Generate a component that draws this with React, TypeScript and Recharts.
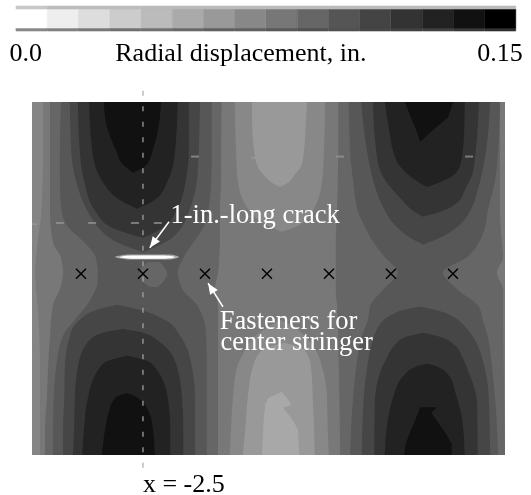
import React from "react";
import {
  Area,
  Bar,
  BarChart,
  Cell,
  ComposedChart,
  ReferenceDot,
  ReferenceLine,
  Scatter,
  XAxis,
  YAxis,
} from "recharts";

// Colour scale (displacement steps, light to dark)
const scaleSteps = ["s0","s1","s2","s3","s4","s5","s6","s7","s8","s9","s10","s11","s12","s13","s14","s15"];
const scaleShades = ["#ffffff","#eeeeee","#dddddd","#cccccc","#bbbbbb","#aaaaaa","#999999","#888888","#777777","#666666","#555555","#444444","#333333","#222222","#111111","#000000"];
const scaleTopShades = ["#c8c8c8","#bcbcbc","#bcbcbc","#bcbcbc","#bbbbbb","#bbbbbb","#bbbbbb","#bbbbbb","#bbbbbb","#bbbbbb","#bbbbbb","#bbbbbb","#bbbbbb","#bbbbbb","#bbbbbb","#bbbbbb"];
const scaleBottomShades = ["#888888","#808080","#787878","#707070","#707070","#686868","#606060","#606060","#585858","#505050","#505050","#484848","#404040","#404040","#383838","#303030"];

// Contour regions: [y in., left x in., right x in.]
const baseField = [[2.77,-4.29,3.34],[-2.92,-4.29,3.34]];
const leftEdge88 = [[2.77,-4.29,-4.11],[2,-4.29,-4.11],[1,-4.29,-4.14],[0.5,-4.29,-4.2],[0,-4.29,-4.24],[-0.5,-4.29,-4.2],[-1.5,-4.29,-4.16],[-2.92,-4.29,-4.16]];
const band66Left = [[2.77,-4,-1.23],[2,-4,-1.24],[1.5,-4,-1.24],[1,-4,-1.26],[0.5,-3.95,-1.26],[0.26,-3.82,-1.27],[0,-3.79,-1.29],[-0.24,-3.84,-1.34],[-0.5,-3.95,-1.29],[-1,-4,-1.29],[-1.5,-4.03,-1.29],[-2,-4.05,-1.29],[-2.5,-4.08,-1.29],[-2.92,-4.08,-1.29]];
const band55Left = [[2.77,-3.82,-1.39],[2,-3.84,-1.39],[1.5,-3.84,-1.4],[1,-3.81,-1.45],[0.76,-3.71,-1.52],[0.5,-3.44,-1.69],[0.26,-3.26,-1.85],[0,-3.23,-1.94],[-0.15,-3.23,-1.9],[-0.24,-3.26,-1.87],[-0.5,-3.4,-1.63],[-0.74,-3.6,-1.52],[-1,-3.79,-1.48],[-1.5,-3.9,-1.47],[-2,-3.94,-1.47],[-2.5,-3.95,-1.47],[-2.92,-3.95,-1.47]];
const bump66 = [[0.19,-2.42,-2.23],[0.1,-2.52,-2.15],[0,-2.55,-2.11],[-0.1,-2.52,-2.15],[-0.21,-2.39,-2.26]];
const top44Left = [[2.77,-3.68,-1.58],[2,-3.66,-1.6],[1.5,-3.58,-1.63],[1,-3.39,-1.76],[0.76,-3.23,-1.87],[0.5,-2.9,-2.15],[0.35,-2.5,-2.5]];
const top33Left = [[2.77,-3.55,-1.76],[2,-3.52,-1.76],[1.5,-3.45,-1.81],[1,-3.26,-1.97],[0.76,-3.03,-2.15],[0.58,-2.5,-2.5]];
const top22Left = [[2.77,-3.37,-1.94],[2,-3.32,-1.98],[1.5,-3.16,-2.1],[1.19,-2.87,-2.31],[1.05,-2.6,-2.6]];
const top11Left = [[2.77,-3.13,-2.21],[2.5,-3.11,-2.23],[2,-2.94,-2.34],[1.76,-2.82,-2.44],[1.63,-2.66,-2.66]];
const bot44Left = [[-0.5,-2.92,-2.92],[-0.58,-3.24,-2.55],[-0.74,-3.52,-2.15],[-1,-3.68,-1.9],[-1.5,-3.76,-1.71],[-2,-3.77,-1.66],[-2.5,-3.79,-1.66],[-2.92,-3.79,-1.66]];
const bot33Left = [[-0.89,-2.82,-2.82],[-0.95,-3.15,-2.5],[-1.1,-3.39,-2.23],[-1.5,-3.55,-1.95],[-2,-3.6,-1.87],[-2.5,-3.61,-1.85],[-2.92,-3.63,-1.85]];
const bot22Left = [[-1.32,-2.76,-2.76],[-1.4,-3.06,-2.44],[-1.5,-3.19,-2.31],[-2,-3.39,-2.1],[-2.5,-3.45,-2.06],[-2.92,-3.48,-2.06]];
const bot11Left = [[-1.92,-2.76,-2.76],[-2,-2.95,-2.58],[-2.26,-3.06,-2.39],[-2.5,-3.11,-2.34],[-2.92,-3.16,-2.31]];
const center88Top = [[2.77,-1.02,0.44],[2,-1,0.42],[1.5,-0.97,0.39],[1,-0.77,0.23],[0.76,-0.45,-0.03],[0.68,-0.26,-0.26]];
const center99Top = [[2.77,-0.74,0.15],[2.5,-0.74,0.13],[2,-0.71,0.1],[1.76,-0.66,0.06],[1.6,-0.56,-0.05],[1.47,-0.42,-0.16],[1.4,-0.29,-0.29]];
const center88Bot = [[-0.74,-0.29,-0.29],[-0.82,-0.42,-0.13],[-1,-0.69,0.11],[-1.23,-0.85,0.29],[-1.5,-0.98,0.39],[-2,-1.05,0.47],[-2.5,-1.08,0.48],[-2.92,-1.1,0.5]];
const center99Bot = [[-1.11,-0.21,-0.21],[-1.23,-0.58,0.11],[-1.5,-0.73,0.21],[-2,-0.81,0.24],[-2.5,-0.85,0.26],[-2.92,-0.89,0.27]];
const centerAABot = [[-1.9,-0.26,-0.26],[-2,-0.48,-0.18],[-2.11,-0.53,-0.1],[-2.16,-0.53,-0.24],[-2.32,-0.55,-0.11],[-2.5,-0.56,0],[-2.92,-0.58,0.02]];
const band66Right = [[2.77,0.65,3.26],[2,0.65,3.26],[1,0.63,3.26],[0.5,0.61,3.29],[0.27,0.61,3.31],[0.02,0.61,3.21],[-0.26,0.61,3.31],[-0.5,0.63,3.31],[-1.5,0.66,3.32],[-2.92,0.68,3.34]];
const band55Right = [[2.77,0.82,3.26],[2,0.84,3.23],[1.5,0.89,3.18],[1,0.97,3.06],[0.76,1.08,3.02],[0.55,1.19,2.94],[0.27,1.4,2.73],[0.02,1.61,2.34],[-0.26,1.37,2.58],[-0.53,1.16,2.92],[-0.74,1.13,2.98],[-1,1.03,3.06],[-1.5,0.94,3.13],[-2,0.89,3.18],[-2.92,0.84,3.23]];
const top44Right = [[2.77,1.02,3.1],[1.89,1.13,3.02],[1.35,1.26,2.9],[1.08,1.37,2.81],[0.79,1.56,2.61],[0.58,1.81,2.29],[0.47,2.02,2.02]];
const top33Right = [[2.77,1.21,2.92],[2,1.26,2.87],[1.63,1.34,2.82],[1.35,1.53,2.69],[1.19,1.68,2.61],[1.03,1.84,2.37],[0.92,2.02,2.02]];
const top22Right = [[2.77,1.4,2.69],[2.27,1.48,2.68],[2,1.53,2.66],[1.73,1.65,2.61],[1.55,1.84,2.45],[1.4,2.08,2.08]];
const top11Right = [[2.77,1.73,2.5],[2.52,1.82,2.42],[2.37,1.89,2.24],[2.13,1.97,1.97]];
const bot44Right = [[-0.53,1.97,1.97],[-0.61,1.61,2.32],[-0.9,1.27,2.74],[-1.55,1.11,3.02],[-2.03,1.06,3.08],[-2.92,1.03,3.1]];
const bot33Right = [[-0.95,2.02,2.02],[-1.02,1.73,2.31],[-1.15,1.56,2.53],[-1.34,1.44,2.65],[-1.55,1.34,2.74],[-2.08,1.24,2.89],[-2.92,1.23,2.9]];
const bot22Right = [[-1.45,2.08,2.08],[-1.5,1.89,2.26],[-1.66,1.69,2.45],[-1.95,1.55,2.55],[-2.35,1.45,2.65],[-2.92,1.4,2.69]];
const bot11Right = [[-2.15,1.97,2.24],[-2.24,1.94,2.15],[-2.52,1.82,2.35],[-2.73,1.74,2.48],[-2.92,1.71,2.48]];
const crackHalo = [[0.31,-2.75,-2.05],[0.27,-2.95,-1.92],[0.23,-2.75,-2.05]];
const crackCore = [[0.295,-2.7,-2.15],[0.285,-2.82,-2.03],[0.27,-2.88,-1.98],[0.255,-2.82,-2.03],[0.245,-2.7,-2.15]];

const regions: [number[][], string, string][] = [
  [baseField, "#787878", "linear"],
  [leftEdge88, "#858585", "monotone"],
  [center88Top, "#888888", "monotone"],
  [center99Top, "#999999", "monotone"],
  [center88Bot, "#888888", "monotone"],
  [center99Bot, "#999999", "monotone"],
  [centerAABot, "#a8a8a8", "linear"],
  [band66Left, "#666666", "monotone"],
  [band66Right, "#666666", "monotone"],
  [band55Left, "#575757", "monotone"],
  [band55Right, "#575757", "monotone"],
  [bump66, "#666666", "monotone"],
  [top44Left, "#464646", "monotone"],
  [top33Left, "#343434", "monotone"],
  [top22Left, "#222222", "monotone"],
  [top11Left, "#111111", "monotone"],
  [bot44Left, "#464646", "monotone"],
  [bot33Left, "#343434", "monotone"],
  [bot22Left, "#222222", "monotone"],
  [bot11Left, "#111111", "monotone"],
  [top44Right, "#464646", "monotone"],
  [top33Right, "#343434", "monotone"],
  [top22Right, "#222222", "monotone"],
  [top11Right, "#111111", "linear"],
  [bot44Right, "#464646", "monotone"],
  [bot33Right, "#343434", "monotone"],
  [bot22Right, "#222222", "monotone"],
  [bot11Right, "#111111", "linear"],
  [crackHalo, "#a8a8a8", "monotone"],
  [crackCore, "#ffffff", "monotone"],
];

const fastenerX = [-3.5, -2.5, -1.5, -0.5, 0.5, 1.5, 2.5];
const fastenerY = 0;
const gaugeMarks = [
  { x: -1.66, y: 1.89 }, { x: -0.69, y: 1.87 }, { x: 0.68, y: 1.89 }, { x: 2.76, y: 1.89 },
  { x: -4.27, y: 0.8 }, { x: -3.84, y: 0.82 }, { x: -3.32, y: 0.82 }, { x: -2.63, y: 0.82 }, { x: -2.26, y: 0.82 },
];
const arrows = [
  { fromX: -2.08, fromY: 0.84, x: -2.39, y: 0.42 },
  { fromX: -1.21, fromY: -0.53, x: -1.45, y: -0.15 },
];
const whiteTexts = [
  { text: "1-in.-long crack", x: -0.69, y: 0.97 },
  { text: "Fasteners for", x: -0.15, y: -0.74 },
  { text: "center stringer", x: -0.02, y: -1.08 },
];
const blackTexts = [
  { text: "0.0", x: -4.39, y: 3.58 },
  { text: "Radial displacement, in.", x: -0.92, y: 3.58 },
  { text: "0.15", x: 3.26, y: 3.58 },
  { text: "x = -2.5", x: -1.84, y: -3.37 },
];
const stationLine = { x: -2.5, top: 2.95, bottom: -3.15 };

const SERIF = "'Liberation Serif', 'Times New Roman', serif";

const scaleData = scaleSteps.map((step) => ({ step, bottom: 3, main: 19, top: 3 }));

const toRows = (rows: number[][]) => rows.map(([y, l, r]) => ({ y, span: [l, r] }));

const Cross = ({ cx, cy }: any) => (
  <path d={`M${cx - 5} ${cy - 5}L${cx + 5} ${cy + 5}M${cx - 5} ${cy + 5}L${cx + 5} ${cy - 5}`} stroke="#000" strokeWidth={1.4} fill="none" />
);
const GaugeMark = ({ cx, cy }: any) => (
  <rect x={cx - 4} y={cy - 1} width={8} height={2} fill="#9a9a9a" opacity={0.7} />
);
const ArrowHead = ({ cx, cy, payload }: any) => {
  const angle = (Math.atan2(-(payload.y - payload.fromY), payload.x - payload.fromX) * 180) / Math.PI;
  return <polygon points="0,0 -11,-4.5 -11,4.5" fill="#fff" transform={`translate(${cx} ${cy}) rotate(${angle})`} />;
};

export default function App() {
  return (
    <div style={{ position: "absolute", left: 0, top: 0, width: 531, height: 495, background: "#fff", filter: "blur(0.4px)" }}>
      <div style={{ position: "absolute", left: 0, top: 0 }}>
        <ComposedChart layout="vertical" width={531} height={495} margin={{ left: 32, right: 26, top: 102, bottom: 40 }}>
          <XAxis type="number" dataKey="x" domain={[-4.29, 3.34]} hide allowDataOverflow />
          <YAxis type="number" dataKey="y" domain={[-2.92, 2.77]} hide allowDataOverflow reversed />
          {regions.map(([rows, fill, curve], i) => (
            <Area
              key={i}
              data={toRows(rows)}
              dataKey="span"
              type={curve as any}
              fill={fill}
              fillOpacity={1}
              stroke="none"
              dot={false}
              activeDot={false}
              isAnimationActive={false}
              legendType="none"
            />
          ))}
          <ReferenceLine
            segment={[{ x: stationLine.x, y: stationLine.top }, { x: stationLine.x, y: stationLine.bottom }]}
            stroke="#aaaaaa"
            strokeWidth={1.2}
            strokeDasharray="5 10.5"
            ifOverflow="visible"
          />
          {arrows.map((a, i) => (
            <ReferenceLine
              key={i}
              segment={[{ x: a.fromX, y: a.fromY }, { x: a.x, y: a.y }]}
              stroke="#ffffff"
              strokeWidth={1.5}
              ifOverflow="visible"
            />
          ))}
          <Scatter data={gaugeMarks} shape={<GaugeMark />} isAnimationActive={false} legendType="none" />
          <Scatter data={fastenerX.map((x) => ({ x, y: fastenerY }))} shape={<Cross />} isAnimationActive={false} legendType="none" />
          <Scatter data={arrows} shape={<ArrowHead />} isAnimationActive={false} legendType="none" />
          {whiteTexts.map((t) => (
            <ReferenceDot key={t.text} x={t.x} y={t.y} r={0} fill="none" stroke="none" ifOverflow="visible"
              label={{ value: t.text, position: "center", fill: "#ffffff", fontSize: 26.5, fontFamily: SERIF }} />
          ))}
          {blackTexts.map((t) => (
            <ReferenceDot key={t.text} x={t.x} y={t.y} r={0} fill="none" stroke="none" ifOverflow="visible"
              label={{ value: t.text, position: "center", fill: "#000000", fontSize: 26, fontFamily: SERIF }} />
          ))}
        </ComposedChart>
      </div>
      <div style={{ position: "absolute", left: 0, top: 0 }}>
        <BarChart width={531} height={37} data={scaleData} margin={{ left: 16, right: 15, top: 6, bottom: 6 }} barCategoryGap={0} barGap={0}>
          <XAxis dataKey="step" type="category" hide />
          <YAxis type="number" domain={[0, 25]} hide />
          <Bar dataKey="bottom" stackId="s" isAnimationActive={false}>
            {scaleBottomShades.map((c, i) => <Cell key={i} fill={c} stroke={c} strokeWidth={0.6} />)}
          </Bar>
          <Bar dataKey="main" stackId="s" isAnimationActive={false}>
            {scaleShades.map((c, i) => <Cell key={i} fill={c} stroke={c} strokeWidth={0.6} />)}
          </Bar>
          <Bar dataKey="top" stackId="s" isAnimationActive={false}>
            {scaleTopShades.map((c, i) => <Cell key={i} fill={c} stroke={c} strokeWidth={0.6} />)}
          </Bar>
        </BarChart>
      </div>
    </div>
  );
}
